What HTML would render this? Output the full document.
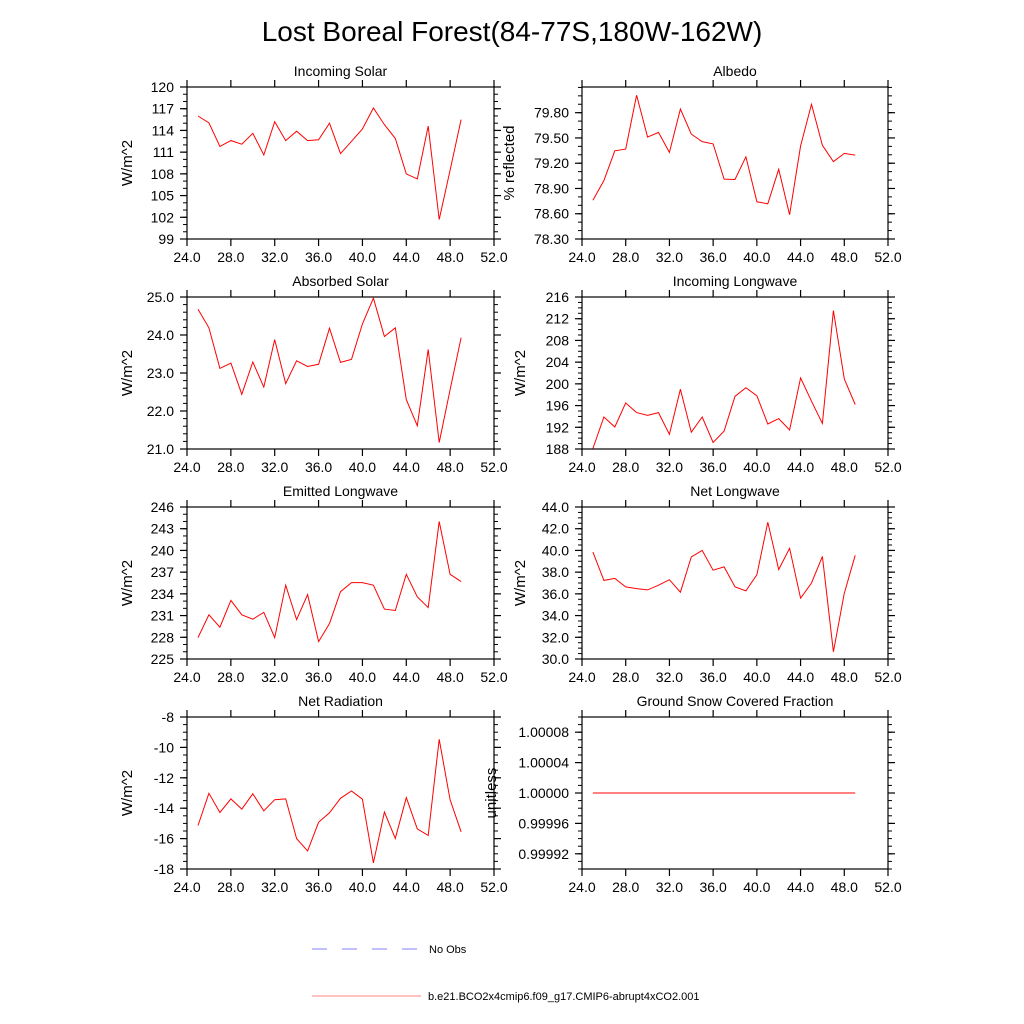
<!DOCTYPE html>
<html><head><meta charset="utf-8"><style>
body{margin:0;background:#fff}
svg{display:block}
text{font-family:"Liberation Sans",sans-serif;fill:#000}
</style></head><body>
<svg id="chart" width="1024" height="1024" viewBox="0 0 1024 1024" xmlns="http://www.w3.org/2000/svg">
<text x="512" y="41" font-size="28" text-anchor="middle">Lost Boreal Forest(84-77S,180W-162W)</text>
<g>
<line x1="312" y1="949" x2="418" y2="949" stroke="#8080ff" stroke-width="1" stroke-dasharray="15,15"/>
<text x="429" y="953" font-size="11">No Obs</text>
<line x1="312" y1="996" x2="421" y2="996" stroke="#ff8080" stroke-width="1"/>
<text x="428" y="1000" font-size="11">b.e21.BCO2x4cmip6.f09_g17.CMIP6-abrupt4xCO2.001</text>
</g>
</svg>
<script>
const years = [25,26,27,28,29,30,31,32,33,34,35,36,37,38,39,40,41,42,43,44,45,46,47,48,49];
const xTicks = [24,28,32,36,40,44,48,52];
const incomingSolar = [116.0,115.05,111.8,112.6,112.1,113.6,110.6,115.2,112.6,113.9,112.6,112.7,115.0,110.8,112.5,114.2,117.1,114.8,112.9,108.0,107.3,114.6,101.7,108.5,115.5];
const albedo = [78.76,78.995,79.347,79.367,80.008,79.51,79.566,79.328,79.843,79.546,79.457,79.429,79.011,79.007,79.276,78.742,78.718,79.128,78.589,79.405,79.90,79.413,79.218,79.316,79.296];
const absorbedSolar = [24.68,24.19,23.12,23.26,22.44,23.29,22.63,23.88,22.72,23.32,23.17,23.23,24.18,23.28,23.36,24.29,24.97,23.96,24.19,22.30,21.61,23.62,21.17,22.56,23.93];
const incomingLW = [188.1,193.9,192.05,196.5,194.7,194.2,194.7,190.7,199.0,191.1,193.9,189.2,191.3,197.7,199.3,197.8,192.6,193.6,191.5,201.1,196.8,192.7,213.5,200.9,196.2];
const emittedLW = [227.96,231.1,229.4,233.1,231.1,230.5,231.45,227.96,235.2,230.45,233.9,227.4,229.9,234.3,235.55,235.55,235.2,231.9,231.7,236.7,233.6,232.1,244.0,236.7,235.7];
const netLW = [39.85,37.24,37.42,36.64,36.48,36.36,36.8,37.3,36.15,39.4,40.0,38.18,38.48,36.64,36.27,37.76,42.6,38.24,40.2,35.6,37.0,39.45,30.66,36.06,39.55];
const netRad = [-15.14,-13.02,-14.28,-13.39,-14.06,-13.05,-14.17,-13.44,-13.39,-16.0,-16.81,-14.93,-14.30,-13.35,-12.87,-13.41,-17.6,-14.25,-15.99,-13.30,-15.36,-15.79,-9.47,-13.45,-15.55];
const snowFrac = [1,1,1,1,1,1,1,1,1,1,1,1,1,1,1,1,1,1,1,1,1,1,1,1,1];
const ticks1 = [99,102,105,108,111,114,117,120];
const ticks2 = [78.30,78.60,78.90,79.20,79.50,79.80];
const ticks3 = [21.0,22.0,23.0,24.0,25.0];
const ticks4 = [188,192,196,200,204,208,212,216];
const ticks5 = [225,228,231,234,237,240,243,246];
const ticks6 = [30.0,32.0,34.0,36.0,38.0,40.0,42.0,44.0];
const ticks7 = [-18,-16,-14,-12,-10,-8];
const ticks8 = [0.99992,0.99996,1.00000,1.00004,1.00008];

const NS="http://www.w3.org/2000/svg";
const svg=document.getElementById('chart');
function mk(tag,attrs,parent){const e=document.createElementNS(NS,tag);for(const k in attrs)e.setAttribute(k,attrs[k]);(parent||svg).appendChild(e);return e;}

const panels=[
 {key:'incoming-solar',title:'Incoming Solar',ylab:'W/m^2',data:incomingSolar,ticks:ticks1,ymin:99,ymax:120,minor:1,dec:0,col:0,row:0},
 {key:'albedo',title:'Albedo',ylab:'% reflected',data:albedo,ticks:ticks2,ymin:78.30,ymax:80.105,minor:0.1,dec:2,col:1,row:0},
 {key:'absorbed-solar',title:'Absorbed Solar',ylab:'W/m^2',data:absorbedSolar,ticks:ticks3,ymin:21,ymax:25,minor:0.2,dec:1,col:0,row:1},
 {key:'incoming-longwave',title:'Incoming Longwave',ylab:'W/m^2',data:incomingLW,ticks:ticks4,ymin:188,ymax:216,minor:1,dec:0,col:1,row:1},
 {key:'emitted-longwave',title:'Emitted Longwave',ylab:'W/m^2',data:emittedLW,ticks:ticks5,ymin:225,ymax:246,minor:1,dec:0,col:0,row:2},
 {key:'net-longwave',title:'Net Longwave',ylab:'W/m^2',data:netLW,ticks:ticks6,ymin:30,ymax:44,minor:0.5,dec:1,col:1,row:2},
 {key:'net-radiation',title:'Net Radiation',ylab:'W/m^2',data:netRad,ticks:ticks7,ymin:-18,ymax:-8,minor:0.5,dec:0,col:0,row:3},
 {key:'snow-fraction',title:'Ground Snow Covered Fraction',ylab:'unitless',data:snowFrac,ticks:ticks8,ymin:0.9999,ymax:1.0001,minor:0.00001,dec:5,col:1,row:3}
];
const colX=[[187,494],[582,888]];
const rowY=[[87,239],[297,449],[507,659],[717,869]];

panels.forEach(p=>{
  const [x0,x1]=colX[p.col];const [y0,y1]=rowY[p.row];
  const g=mk('g',{});
  
  
  const xs=v=>x0+(v-24)/(52-24)*(x1-x0);
  const ys=v=>y1-(v-p.ymin)/(p.ymax-p.ymin)*(y1-y0);
  const start=Math.ceil(p.ymin/p.minor-1e-6);
  for(let i=start;i*p.minor<=p.ymax+1e-9;i++){
    const y=ys(i*p.minor);
    mk('line',{x1:x0-4,x2:x0,y1:y,y2:y,stroke:'#000','stroke-width':1},g);
    mk('line',{x1:x1,x2:x1+4,y1:y,y2:y,stroke:'#000','stroke-width':1},g);
  }
  for(let v=24;v<=52;v++){
    const x=xs(v);const L=(v%4===0)?7:0;
    if(L){mk('line',{x1:x,x2:x,y1:y1,y2:y1+L,stroke:'#000','stroke-width':1.2},g);
    mk('line',{x1:x,x2:x,y1:y0-L,y2:y0,stroke:'#000','stroke-width':1.2},g);}
  }
  xTicks.forEach(v=>{
    const t=mk('text',{x:xs(v),y:y1+23,'font-size':14,'text-anchor':'middle'},g);
    
    
    t.textContent=v.toFixed(1);
  });
  p.ticks.forEach(v=>{
    const y=ys(v);
    mk('line',{x1:x0-7,x2:x0,y1:y,y2:y,stroke:'#000','stroke-width':1.2},g);
    mk('line',{x1:x1,x2:x1+7,y1:y,y2:y,stroke:'#000','stroke-width':1.2},g);
    const t=mk('text',{x:x0-13,y:y+5,'font-size':14,'text-anchor':'end'},g);
    
    
    t.textContent=v.toFixed(p.dec);
  });
  const fr=mk('rect',{x:x0,y:y0,width:x1-x0,height:y1-y0,fill:'none',stroke:'#000','stroke-width':1.2},g);
  
  
  const tt=mk('text',{x:(x0+x1)/2,y:y0-11,'font-size':14,'text-anchor':'middle'},g);
  
  
  tt.textContent=p.title;
  const lx = p.col===0 ? 132 : (p.key==='albedo'?514:(p.key==='snow-fraction'?496:525));
  const yl=mk('text',{x:lx,y:(y0+y1)/2,'font-size':15,'text-anchor':'middle',transform:`rotate(-90 ${lx} ${(y0+y1)/2})`},g);
  
  
  yl.textContent=p.ylab;
  const pts=years.map((yr,i)=>xs(yr).toFixed(1)+','+ys(p.data[i]).toFixed(1)).join(' ');
  const pl=mk('polyline',{points:pts,fill:'none',stroke:'#ff0000','stroke-width':1},g);
  
  
});
</script>
</body></html>
